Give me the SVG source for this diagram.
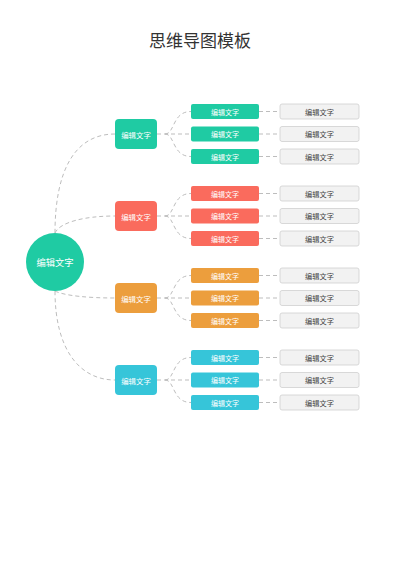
<svg xmlns="http://www.w3.org/2000/svg" width="400" height="565" viewBox="0 0 400 565">
<style>
text{font-family:"Noto Sans CJK SC","Noto Sans",sans-serif;text-anchor:middle;dominant-baseline:central}
.t{font-size:17px;fill:#333}
.r{font-size:9.3px;fill:#fff}
.l1{font-size:7.4px;fill:#fff}
.l2{font-size:7px;fill:#fff}
.l3{font-size:7.2px;fill:#444}
.c{fill:none;stroke:#bdbdbd;stroke-width:1;stroke-dasharray:4 3}
.leaf{fill:#f2f2f2;stroke:#cfcfcf;stroke-width:0.8}
.g1{fill:#1fcba3}.g2{fill:#fa6b5d}.g3{fill:#ec9e3d}.g4{fill:#36c5d9}
</style>
<rect width="400" height="565" fill="#fff"/>
<text class="t" x="200" y="39">思维导图模板</text>
<g id="connectors">
<path class="c" d="M55,233 C55,170 75,134 115,134"/>
<path class="c" d="M55,233 C60,222 85,216 115,216"/>
<path class="c" d="M55,291 C65,296 90,298 115,298"/>
<path class="c" d="M55,291 C55,350 80,380 115,380"/>
<path class="c" d="M157,134 L191,134"/>
<path class="c" d="M165,134 C175,134 172,111.5 191,111.5"/>
<path class="c" d="M165,134 C175,134 172,156.5 191,156.5"/>
<path class="c" d="M259,111.5 L280,111.5 M259,134 L280,134 M259,156.5 L280,156.5"/>
<path class="c" d="M157,216 L191,216"/>
<path class="c" d="M165,216 C175,216 172,193.5 191,193.5"/>
<path class="c" d="M165,216 C175,216 172,238.5 191,238.5"/>
<path class="c" d="M259,193.5 L280,193.5 M259,216 L280,216 M259,238.5 L280,238.5"/>
<path class="c" d="M157,298 L191,298"/>
<path class="c" d="M165,298 C175,298 172,275.5 191,275.5"/>
<path class="c" d="M165,298 C175,298 172,320.5 191,320.5"/>
<path class="c" d="M259,275.5 L280,275.5 M259,298 L280,298 M259,320.5 L280,320.5"/>
<path class="c" d="M157,380 L191,380"/>
<path class="c" d="M165,380 C175,380 172,357.5 191,357.5"/>
<path class="c" d="M165,380 C175,380 172,402.5 191,402.5"/>
<path class="c" d="M259,357.5 L280,357.5 M259,380 L280,380 M259,402.5 L280,402.5"/>
</g>
<g id="root"><circle class="g1" cx="55" cy="262" r="29"/><text class="r" x="55" y="262">编辑文字</text></g>

<g id="n1"><rect class="g1" x="115" y="119" width="42" height="30" rx="4"/><text class="l1" x="136" y="134">编辑文字</text></g>
<g id="n1a"><rect class="g1" x="191" y="104" width="68" height="15" rx="2"/><text class="l2" x="225" y="111.5">编辑文字</text></g>
<g id="n1b"><rect class="g1" x="191" y="126.5" width="68" height="15" rx="2"/><text class="l2" x="225" y="134">编辑文字</text></g>
<g id="n1c"><rect class="g1" x="191" y="149" width="68" height="15" rx="2"/><text class="l2" x="225" y="156.5">编辑文字</text></g>
<g id="n1a1"><rect class="leaf" x="280" y="104" width="79" height="15" rx="2"/><text class="l3" x="319.5" y="111.5">编辑文字</text></g>
<g id="n1b1"><rect class="leaf" x="280" y="126.5" width="79" height="15" rx="2"/><text class="l3" x="319.5" y="134">编辑文字</text></g>
<g id="n1c1"><rect class="leaf" x="280" y="149" width="79" height="15" rx="2"/><text class="l3" x="319.5" y="156.5">编辑文字</text></g>

<g id="n2"><rect class="g2" x="115" y="201" width="42" height="30" rx="4"/><text class="l1" x="136" y="216">编辑文字</text></g>
<g id="n2a"><rect class="g2" x="191" y="186" width="68" height="15" rx="2"/><text class="l2" x="225" y="193.5">编辑文字</text></g>
<g id="n2b"><rect class="g2" x="191" y="208.5" width="68" height="15" rx="2"/><text class="l2" x="225" y="216">编辑文字</text></g>
<g id="n2c"><rect class="g2" x="191" y="231" width="68" height="15" rx="2"/><text class="l2" x="225" y="238.5">编辑文字</text></g>
<g id="n2a1"><rect class="leaf" x="280" y="186" width="79" height="15" rx="2"/><text class="l3" x="319.5" y="193.5">编辑文字</text></g>
<g id="n2b1"><rect class="leaf" x="280" y="208.5" width="79" height="15" rx="2"/><text class="l3" x="319.5" y="216">编辑文字</text></g>
<g id="n2c1"><rect class="leaf" x="280" y="231" width="79" height="15" rx="2"/><text class="l3" x="319.5" y="238.5">编辑文字</text></g>

<g id="n3"><rect class="g3" x="115" y="283" width="42" height="30" rx="4"/><text class="l1" x="136" y="298">编辑文字</text></g>
<g id="n3a"><rect class="g3" x="191" y="268" width="68" height="15" rx="2"/><text class="l2" x="225" y="275.5">编辑文字</text></g>
<g id="n3b"><rect class="g3" x="191" y="290.5" width="68" height="15" rx="2"/><text class="l2" x="225" y="298">编辑文字</text></g>
<g id="n3c"><rect class="g3" x="191" y="313" width="68" height="15" rx="2"/><text class="l2" x="225" y="320.5">编辑文字</text></g>
<g id="n3a1"><rect class="leaf" x="280" y="268" width="79" height="15" rx="2"/><text class="l3" x="319.5" y="275.5">编辑文字</text></g>
<g id="n3b1"><rect class="leaf" x="280" y="290.5" width="79" height="15" rx="2"/><text class="l3" x="319.5" y="298">编辑文字</text></g>
<g id="n3c1"><rect class="leaf" x="280" y="313" width="79" height="15" rx="2"/><text class="l3" x="319.5" y="320.5">编辑文字</text></g>

<g id="n4"><rect class="g4" x="115" y="365" width="42" height="30" rx="4"/><text class="l1" x="136" y="380">编辑文字</text></g>
<g id="n4a"><rect class="g4" x="191" y="350" width="68" height="15" rx="2"/><text class="l2" x="225" y="357.5">编辑文字</text></g>
<g id="n4b"><rect class="g4" x="191" y="372.5" width="68" height="15" rx="2"/><text class="l2" x="225" y="380">编辑文字</text></g>
<g id="n4c"><rect class="g4" x="191" y="395" width="68" height="15" rx="2"/><text class="l2" x="225" y="402.5">编辑文字</text></g>
<g id="n4a1"><rect class="leaf" x="280" y="350" width="79" height="15" rx="2"/><text class="l3" x="319.5" y="357.5">编辑文字</text></g>
<g id="n4b1"><rect class="leaf" x="280" y="372.5" width="79" height="15" rx="2"/><text class="l3" x="319.5" y="380">编辑文字</text></g>
<g id="n4c1"><rect class="leaf" x="280" y="395" width="79" height="15" rx="2"/><text class="l3" x="319.5" y="402.5">编辑文字</text></g>
</svg>
